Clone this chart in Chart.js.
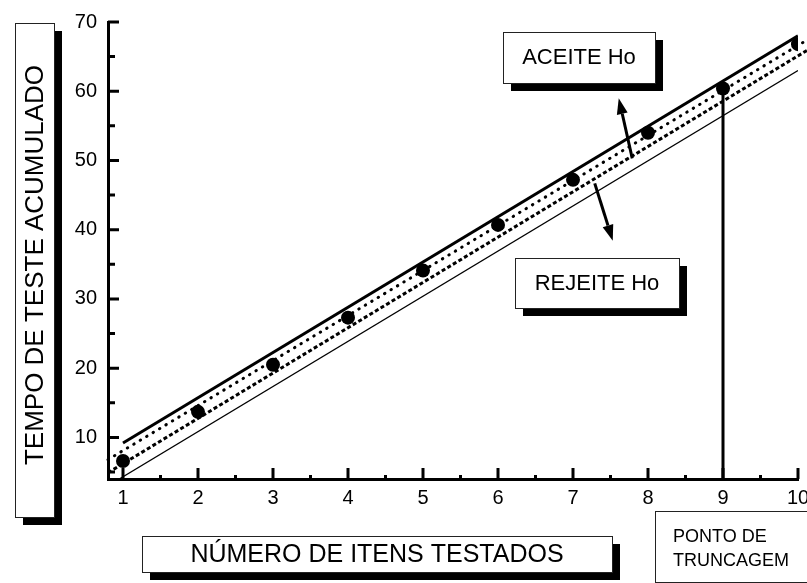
<!DOCTYPE html>
<html>
<head>
<meta charset="utf-8">
<script src="https://cdn.jsdelivr.net/npm/chart.js@4/dist/chart.umd.min.js"></script>
<style>
  body { margin: 0; background: #fff; }
  canvas { display: block; }
</style>
</head>
<body>
<canvas id="chart" width="807" height="583"></canvas>
<script>
// ====== dados ======
const itens = [1, 2, 3, 4, 5, 6, 7, 8, 9, 10];
const tempos = [6.6, 13.7, 20.5, 27.3, 34.1, 40.7, 47.2, 54.0, 60.4, 66.8];

// retas de decisao (extremos)
const aceiteX = [1, 10];
const aceiteY = [9.2, 68.0];
const medioX = [0.8, 10.12];
const medioY = [6.8, 67.4];
const limiteX = [0.8, 10.12];
const limiteY = [4.9, 65.9];
const rejeiteX = [0.95, 10];
const rejeiteY = [4.0, 63.0];

// ponto de truncagem
const truncX = [9, 9];
const truncY = [4, 60.4];

// setas (cauda -> ponta), em unidades dos eixos
const setaAceite = { x: [7.79, 7.61], y: [50.3, 59.0] };
const setaRejeite = { x: [7.29, 7.53], y: [46.7, 38.4] };

const yTicks = [10, 20, 30, 40, 50, 60, 70];
const yMinor = [5, 15, 25, 35, 45, 55, 65];
const xTicks = [1, 2, 3, 4, 5, 6, 7, 8, 9, 10];
const xMinor = [1.5, 2.5, 3.5, 4.5, 5.5, 6.5, 7.5, 8.5, 9.5];

const FONT = "'Liberation Sans', Arial, sans-serif";

function pts(xs, ys) {
  return xs.map((x, i) => ({ x: x, y: ys[i] }));
}

// ====== plugin: marcas dos eixos para dentro + setas ======
const ticksInside = {
  id: "ticksInside",
  afterDatasetsDraw(chart) {
    const ctx = chart.ctx;
    const xs = chart.scales.x, ys = chart.scales.y;
    const left = chart.chartArea.left, bottom = chart.chartArea.bottom;
    ctx.save();
    ctx.strokeStyle = "#000";
    ctx.lineWidth = 3;
    ctx.lineCap = "butt";
    ctx.beginPath();
    yTicks.forEach(v => { const p = ys.getPixelForValue(v); ctx.moveTo(left, p); ctx.lineTo(left + 11, p); });
    yMinor.forEach(v => { const p = ys.getPixelForValue(v); ctx.moveTo(left, p); ctx.lineTo(left + 7, p); });
    xTicks.forEach(v => { const p = xs.getPixelForValue(v); ctx.moveTo(p, bottom); ctx.lineTo(p, bottom - 11); });
    xMinor.forEach(v => { const p = xs.getPixelForValue(v); ctx.moveTo(p, bottom); ctx.lineTo(p, bottom - 4); });
    ctx.stroke();

    [setaAceite, setaRejeite].forEach(s => {
      const x0 = xs.getPixelForValue(s.x[0]), y0 = ys.getPixelForValue(s.y[0]);
      const x1 = xs.getPixelForValue(s.x[1]), y1 = ys.getPixelForValue(s.y[1]);
      const a = Math.atan2(y1 - y0, x1 - x0);
      const hl = 16, hw = 5.5;
      const bx = x1 - hl * Math.cos(a), by = y1 - hl * Math.sin(a);
      ctx.lineWidth = 3;
      ctx.beginPath();
      ctx.moveTo(x0, y0);
      ctx.lineTo(bx, by);
      ctx.stroke();
      ctx.fillStyle = "#000";
      ctx.beginPath();
      ctx.moveTo(x1, y1);
      ctx.lineTo(bx + hw * Math.sin(a), by - hw * Math.cos(a));
      ctx.lineTo(bx - hw * Math.sin(a), by + hw * Math.cos(a));
      ctx.closePath();
      ctx.fill();
    });
    ctx.restore();
  }
};

// ====== plugin: caixas de texto ======
function caixa(ctx, x, y, w, h, sombra) {
  if (sombra) {
    ctx.fillStyle = "#000";
    ctx.fillRect(x + 8, y + 8, w, h);
  }
  ctx.fillStyle = "#fff";
  ctx.fillRect(x, y, w, h);
  ctx.strokeStyle = "#222";
  ctx.lineWidth = 1;
  ctx.strokeRect(x + 0.5, y + 0.5, w, h);
}

const caixas = {
  id: "caixas",
  afterDraw(chart) {
    const ctx = chart.ctx;
    ctx.save();
    ctx.textAlign = "center";
    ctx.textBaseline = "middle";

    caixa(ctx, 15, 23, 39, 494, true);
    ctx.save();
    ctx.translate(36, 265);
    ctx.rotate(-Math.PI / 2);
    ctx.fillStyle = "#000";
    ctx.font = "26px " + FONT;
    ctx.fillText("TEMPO DE TESTE ACUMULADO", 0, 0);
    ctx.restore();

    caixa(ctx, 142, 536, 470, 36, true);
    ctx.fillStyle = "#000";
    ctx.font = "25px " + FONT;
    ctx.fillText("NÚMERO DE ITENS TESTADOS", 377, 555);

    caixa(ctx, 503, 32, 152, 51, true);
    ctx.fillStyle = "#000";
    ctx.font = "22px " + FONT;
    ctx.fillText("ACEITE Ho", 579, 58);

    caixa(ctx, 515, 258, 164, 50, true);
    ctx.fillStyle = "#000";
    ctx.fillText("REJEITE Ho", 597, 284);

    caixa(ctx, 655, 511, 170, 71, false);
    ctx.fillStyle = "#000";
    ctx.textAlign = "left";
    ctx.font = "18px " + FONT;
    ctx.fillText("PONTO DE", 673, 537);
    ctx.fillText("TRUNCAGEM", 673, 561);
    ctx.restore();
  }
};

// ====== grafico ======
new Chart(document.getElementById("chart"), {
  type: "line",
  data: {
    datasets: [
      {
        data: pts(itens, tempos),
        showLine: false,
        pointRadius: 7,
        pointBackgroundColor: "#000",
        pointBorderWidth: 0
      },
      {
        data: pts(aceiteX, aceiteY),
        borderColor: "#000",
        borderWidth: 3,
        pointRadius: 0
      },
      {
        data: pts(medioX, medioY),
        borderColor: "#000",
        borderWidth: 3,
        borderDash: [0.5, 7],
        borderCapStyle: "round",
        pointRadius: 0,
        clip: false
      },
      {
        data: pts(limiteX, limiteY),
        borderColor: "#000",
        borderWidth: 3,
        borderDash: [4, 2.5],
        pointRadius: 0,
        clip: false
      },
      {
        data: pts(rejeiteX, rejeiteY),
        borderColor: "#000",
        borderWidth: 1.3,
        pointRadius: 0
      },
      {
        data: pts(truncX, truncY),
        borderColor: "#000",
        borderWidth: 3,
        pointRadius: 0
      }
    ]
  },
  options: {
    responsive: false,
    animation: false,
    devicePixelRatio: 1,
    layout: { padding: { left: 0, right: 9, top: 22, bottom: 0 } },
    plugins: { legend: { display: false }, tooltip: { enabled: false } },
    scales: {
      x: {
        type: "linear",
        min: 0.8,
        max: 10,
        grid: { display: false, drawTicks: false },
        border: { display: true, color: "#000", width: 3 },
        ticks: { stepSize: 1, padding: 7, color: "#000", font: { family: FONT, size: 20 } },
        afterBuildTicks(s) { s.ticks = xTicks.map(v => ({ value: v })); },
        afterFit(s) { s.height = 104; s.paddingLeft = 0; s.paddingRight = 0; }
      },
      y: {
        type: "linear",
        min: 4,
        max: 70,
        grid: { display: false, drawTicks: false },
        border: { display: true, color: "#000", width: 3 },
        ticks: { stepSize: 10, padding: 11, color: "#000", font: { family: FONT, size: 20 } },
        afterBuildTicks(s) { s.ticks = yTicks.map(v => ({ value: v })); },
        afterFit(s) { s.width = 108; s.paddingTop = 0; s.paddingBottom = 0; }
      }
    }
  },
  plugins: [ticksInside, caixas]
});
</script>
</body>
</html>
